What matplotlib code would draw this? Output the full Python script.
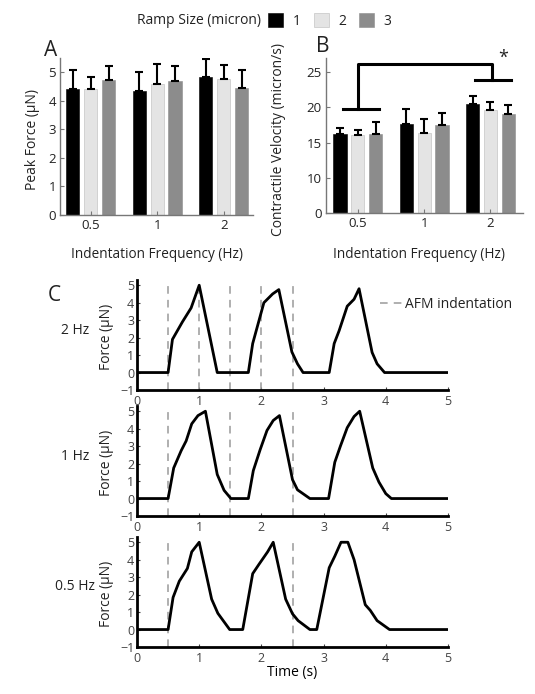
import numpy as np
import matplotlib
matplotlib.use('Agg')
import matplotlib.pyplot as plt

plt.rcParams['font.family'] = ['Open Sans', 'DejaVu Sans']
plt.rcParams['text.color'] = '#222222'
plt.rcParams['xtick.color'] = '#222222'
plt.rcParams['ytick.color'] = '#222222'

W, H = 535, 694

# bar chart data
freq_labels = ['0.5', '1', '2']
ramp_labels = ['1', '2', '3']
ramp_colors = ['#000000', '#e4e4e4', '#8c8c8c']

peak_mean = [[4.42, 4.35, 4.85],
             [4.40, 4.60, 4.78],
             [4.73, 4.70, 4.46]]
peak_err = [[0.65, 0.67, 0.60],
            [0.45, 0.68, 0.47],
            [0.50, 0.52, 0.62]]

vel_mean = [[16.2, 17.7, 20.5],
            [16.0, 16.3, 19.6],
            [16.2, 17.5, 19.1]]
vel_err = [[0.9, 2.1, 1.1],
           [0.85, 2.1, 1.1],
           [1.7, 1.7, 1.2]]
vel_ticks = [5, 10, 15, 20, 25]
vel_ticklabels = ['0', '10', '15', '20', '25']

# significance bracket (group index units, velocity units)
brk_left_x = [-0.22, 0.32]
brk_left_y = 19.7
brk_right_x = [1.76, 2.31]
brk_right_y = 23.9
brk_top_y = 26.2

# force traces
t_2hz = [0, 0.5, 0.57, 0.73, 0.87, 1.0, 1.29, 1.79, 1.86, 2.04, 2.18, 2.28, 2.49, 2.58, 2.67,
         3.09, 3.17, 3.25, 3.38, 3.49, 3.57, 3.78, 3.86, 3.98, 5.0]
f_2hz = [0, 0, 1.9, 2.9, 3.7, 5.0, 0, 0, 1.66, 4.0, 4.5, 4.75, 1.18, 0.5, 0,
         0, 1.66, 2.4, 3.8, 4.2, 4.8, 1.15, 0.5, 0, 0]

t_1hz = [0, 0.5, 0.59, 0.71, 0.79, 0.88, 0.98, 1.1, 1.29, 1.4, 1.51, 1.79, 1.87, 1.98, 2.09,
         2.19, 2.29, 2.5, 2.58, 2.78, 3.08, 3.18, 3.27, 3.38, 3.49, 3.58, 3.79, 3.89, 4.0, 4.09, 5.0]
f_1hz = [0, 0, 1.75, 2.74, 3.3, 4.28, 4.75, 5.0, 1.38, 0.47, 0, 0, 1.6, 2.8, 3.9,
         4.47, 4.75, 1.08, 0.5, 0, 0, 2.08, 3.0, 4.06, 4.7, 5.0, 1.75, 0.94, 0.28, 0, 0]

t_05hz = [0, 0.5, 0.58, 0.68, 0.81, 0.88, 1.0, 1.2, 1.3, 1.49, 1.7, 1.86, 1.96, 2.1, 2.19,
          2.39, 2.5, 2.59, 2.78, 2.89, 3.09, 3.18, 3.28, 3.39, 3.49, 3.67, 3.75, 3.86, 4.06, 5.0]
f_05hz = [0, 0, 1.84, 2.77, 3.5, 4.45, 5.0, 1.74, 0.93, 0, 0, 3.2, 3.73, 4.45, 5.0,
          1.74, 0.9, 0.51, 0, 0, 3.54, 4.2, 5.0, 5.0, 4.0, 1.42, 1.1, 0.51, 0, 0]

dash_2hz = [0.5, 1, 1.5, 2, 2.5]
dash_1hz = [0.5, 1.5, 2.5]
dash_05hz = [0.5, 2.5]

fig = plt.figure(figsize=(W / 100, H / 100), dpi=100)


def px_axes(left, top, right, bottom):
    return fig.add_axes([left / W, 1 - bottom / H, (right - left) / W, (bottom - top) / H])


def style_bar_axes(ax):
    for s in ['top', 'right']:
        ax.spines[s].set_visible(False)
    for s in ['left', 'bottom']:
        ax.spines[s].set_color('#777777')
        ax.spines[s].set_linewidth(1)
    ax.tick_params(direction='in', length=3, width=0.8, color='#777777', labelsize=9.5, pad=3)


x = np.arange(len(freq_labels))
bw = 0.2
step = 0.27

# A: peak force
axA = px_axes(60, 58, 253, 215)
bars = []
for i in range(3):
    b = axA.bar(x + (i - 1) * step, peak_mean[i], bw, color=ramp_colors[i],
                edgecolor='#bbbbbb' if i == 1 else ramp_colors[i], linewidth=0.4, label=ramp_labels[i])
    axA.errorbar(x + (i - 1) * step, peak_mean[i], yerr=[np.zeros(3), peak_err[i]], fmt='none',
                 ecolor='black', elinewidth=1.5, capsize=3, capthick=1.5)
    bars.append(b)
axA.set_xlim(-0.46, 2.44)
axA.set_ylim(0, 5.5)
axA.set_yticks([0, 1, 2, 3, 4, 5])
axA.set_xticks(x)
axA.set_xticklabels(freq_labels)
style_bar_axes(axA)

# B: contractile velocity
axB = px_axes(326, 58, 523, 213)
for i in range(3):
    axB.bar(x + (i - 1) * step, vel_mean[i], bw, color=ramp_colors[i],
            edgecolor='#bbbbbb' if i == 1 else ramp_colors[i], linewidth=0.4)
    axB.errorbar(x + (i - 1) * step, vel_mean[i], yerr=[np.zeros(3), vel_err[i]], fmt='none',
                 ecolor='black', elinewidth=1.5, capsize=3, capthick=1.5)
axB.set_xlim(-0.48, 2.49)
axB.set_ylim(5, 27)
axB.set_yticks(vel_ticks)
axB.set_yticklabels(vel_ticklabels)
axB.set_xticks(x)
axB.set_xticklabels(freq_labels)
style_bar_axes(axB)

# bracket
axB.plot(brk_left_x, [brk_left_y, brk_left_y], color='black', lw=2.2, clip_on=False)
axB.plot(brk_right_x, [brk_right_y, brk_right_y], color='black', lw=2.2, clip_on=False)
axB.plot([0, 0, 2.02, 2.02], [brk_left_y, brk_top_y, brk_top_y, brk_right_y],
         color='black', lw=2.2, clip_on=False)
fig.text(503 / W, 1 - 58 / H, '*', fontsize=13, ha='center', va='center')

# labels for A/B
fig.text(33 / W, 1 - 140 / H, 'Peak Force (μN)', rotation=90, fontsize=10, ha='center', va='center')
fig.text(279 / W, 1 - 140 / H, 'Contractile Velocity (micron/s)', rotation=90, fontsize=10,
         ha='center', va='center')
fig.text(157 / W, 1 - 255 / H, 'Indentation Frequency (Hz)', fontsize=9.8, ha='center', va='center')
fig.text(419 / W, 1 - 255 / H, 'Indentation Frequency (Hz)', fontsize=9.8, ha='center', va='center')
fig.text(51 / W, 1 - 50 / H, 'A', fontsize=15, ha='center', va='center')
fig.text(323 / W, 1 - 47 / H, 'B', fontsize=15, ha='center', va='center')
fig.text(54 / W, 1 - 296 / H, 'C', fontsize=15, ha='center', va='center')

# legend row
fig.text(199 / W, 1 - 21 / H, 'Ramp Size (micron)', fontsize=10, ha='center', va='center')
fig.legend(handles=bars, loc='center left', bbox_to_anchor=(268 / W, 1 - 21 / H), ncol=3,
           frameon=False, fontsize=10, handlelength=1.1, handleheight=1.1,
           handletextpad=0.7, columnspacing=0.9, borderpad=0, borderaxespad=0)

# C: force traces
traces = [(t_2hz, f_2hz, dash_2hz, '2 Hz', 280, 390),
          (t_1hz, f_1hz, dash_1hz, '1 Hz', 406, 516),
          (t_05hz, f_05hz, dash_05hz, '0.5 Hz', 537, 647)]
for k, (t, f, dashes, lab, top, bot) in enumerate(traces):
    ax = px_axes(137, top, 448, bot)
    for d in dashes:
        ax.axvline(d, color='#9a9a9a', lw=1.1, ls=(0, (5, 4)), label='AFM indentation' if d == dashes[0] else None)
    ax.plot(t, f, color='black', lw=2)
    ax.set_xlim(0, 5)
    ax.set_ylim(-1, 5.3)
    ax.set_xticks([0, 1, 2, 3, 4, 5])
    ax.set_yticks([-1, 0, 1, 2, 3, 4, 5])
    for s in ['top', 'right']:
        ax.spines[s].set_visible(False)
    for s in ['left', 'bottom']:
        ax.spines[s].set_linewidth(2)
    ax.tick_params(direction='in', length=2.5, width=0.8, labelsize=9, colors='#444444')
    ax.tick_params(axis='x', pad=3.5)
    ax.tick_params(axis='y', pad=2)
    fig.text(107 / W, 1 - ((top + bot) / 2 + 2) / H, 'Force (μN)', rotation=90, fontsize=10,
             ha='center', va='center')
    fig.text(75 / W, 1 - ((top + bot) / 2 - 5) / H, lab, fontsize=10, ha='center', va='center')
    if k == 0:
        ax.legend(loc='center left', bbox_to_anchor=(380 / W, 1 - 304 / H),
                  bbox_transform=fig.transFigure, frameon=False, fontsize=10,
                  handlelength=1.6, handletextpad=0.2, borderpad=0, borderaxespad=0)
    if k == 2:
        ax.set_xlabel('Time (s)', fontsize=10, labelpad=0)

fig.savefig('out.png', dpi=100)
